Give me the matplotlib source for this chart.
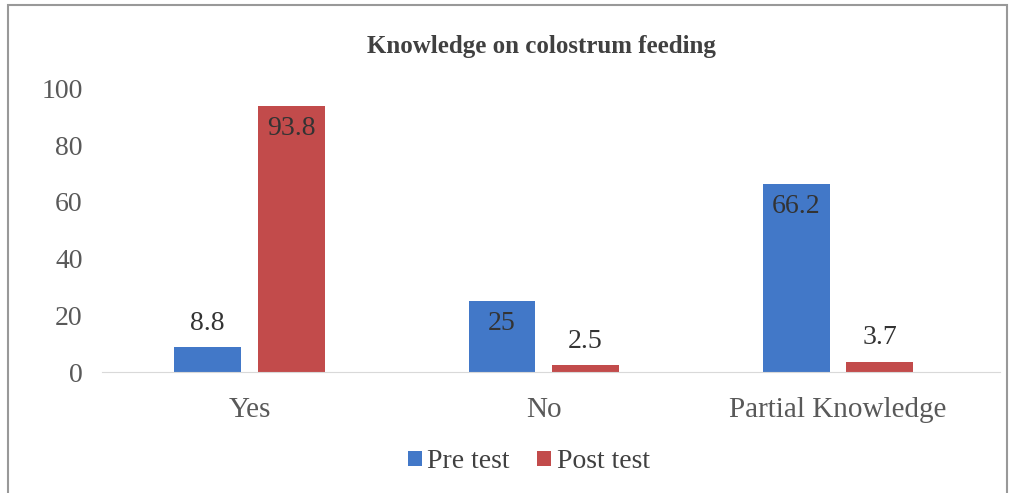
import numpy as np
import matplotlib
matplotlib.use('Agg')
from matplotlib import pyplot as plt
from matplotlib.patches import Rectangle

categories = ['Yes', 'No', 'Partial Knowledge']
pre_test = [8.8, 25, 66.2]
post_test = [93.8, 2.5, 3.7]
y_ticks = [0, 20, 40, 60, 80, 100]

BLUE = '#4278C8'
RED = '#C24B4B'


def main():
    plt.rcParams['font.family'] = ['Liberation Serif', 'DejaVu Serif']
    fig = plt.figure(figsize=(10.13, 4.93), dpi=100)
    ax = fig.add_axes([0.101, 0.245, 0.886, 0.576])

    x = np.arange(len(categories))
    width = 0.227
    offset = 0.142
    ax.bar(x - offset, pre_test, width, color=BLUE, label='Pre test')
    ax.bar(x + offset, post_test, width, color=RED, label='Post test')

    # labels: inside the top for tall bars, above for short ones
    for xs, vals in ((x - offset, pre_test), (x + offset, post_test)):
        for xi, v in zip(xs, vals):
            if v > 20:
                ax.text(xi, v - 3.5, f'{v:g}', ha='center', va='top',
                        fontsize=20, color='#333333')
            else:
                ax.text(xi, v + 4, f'{v:g}', ha='center', va='bottom',
                        fontsize=20, color='#333333')

    ax.set_xlim(-0.5, 2.55)
    ax.set_ylim(0, 100)
    ax.set_xticks(x)
    ax.set_xticklabels(categories, fontsize=21, color='#595959')
    ax.set_yticks(y_ticks)
    ax.set_yticklabels([str(t) for t in y_ticks], fontsize=20, color='#595959')
    ax.tick_params(length=0, pad=14)
    ax.tick_params(axis='x', pad=18)
    for side in ('left', 'right', 'top'):
        ax.spines[side].set_visible(False)
    ax.spines['bottom'].set_color('#D9D9D9')

    fig.text(0.534, 0.905, 'Knowledge on colostrum feeding', ha='center',
             va='center', fontsize=18, fontweight='bold', color='#404040')

    fig.legend(loc='center', bbox_to_anchor=(0.522, 0.063), ncol=2,
               frameon=False, fontsize=20, handlelength=0.5, handleheight=0.5,
               handletextpad=0.2, columnspacing=1.0, labelcolor='#404040')

    fig.patches.append(Rectangle((0.008, -0.05), 0.986, 1.04,
                                 transform=fig.transFigure, fill=False,
                                 edgecolor='#999999', linewidth=1.5))
    fig.savefig('out.png', dpi=100)


if __name__ == '__main__':
    main()
